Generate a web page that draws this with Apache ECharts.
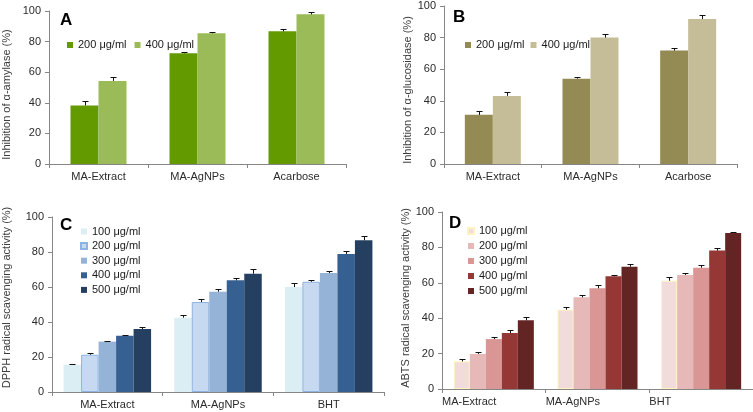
<!DOCTYPE html>
<html>
<head>
<meta charset="utf-8">
<script src="https://cdn.jsdelivr.net/npm/echarts@6/dist/echarts.min.js"></script>
<style>
html,body{margin:0;padding:0;background:#fff;}
#chart{width:753px;height:412px;}
</style>
</head>
<body>
<div id="chart"></div>
<script>
// ---------- data ----------
const categoriesAB = ['MA-Extract', 'MA-AgNPs', 'Acarbose'];
const categoriesCD = ['MA-Extract', 'MA-AgNPs', 'BHT'];
const legendAB = ['200 μg/ml', '400 μg/ml'];
const legendCD = ['100 μg/ml', '200 μg/ml', '300 μg/ml', '400 μg/ml', '500 μg/ml'];
const yMin = 0, yMax = 100, yStep = 20;

const amylase200 = [38.3, 72.4, 86.7];
const amylase200Err = [2.6, 1.1, 1.3];
const amylase400 = [54.3, 85.4, 97.8];
const amylase400Err = [2.4, 1.1, 1.3];

const glucosidase200 = [31.1, 54.0, 71.8];
const glucosidase200Err = [2.3, 1.3, 1.7];
const glucosidase400 = [43.1, 80.0, 91.8];
const glucosidase400Err = [2.3, 2.1, 2.7];

const dpph100 = [15.6, 42.5, 60.0];
const dpph200 = [21.3, 51.4, 63.0];
const dpph300 = [28.8, 57.3, 68.0];
const dpph400 = [32.2, 63.8, 78.9];
const dpph500 = [36.0, 67.6, 86.7];
const dpph100Err = [0.6, 1.3, 2.3];
const dpph200Err = [1.0, 1.7, 1.2];
const dpph300Err = [0.5, 1.7, 1.1];
const dpph400Err = [0.6, 1.3, 1.7];
const dpph500Err = [1.1, 2.5, 2.6];

const abts100 = [15.6, 44.8, 61.2];
const abts200 = [19.8, 51.8, 64.4];
const abts300 = [28.2, 56.9, 68.5];
const abts400 = [31.6, 63.7, 78.2];
const abts500 = [38.8, 69.1, 88.1];
const abts100Err = [1.4, 1.3, 1.8];
const abts200Err = [1.1, 1.3, 1.3];
const abts300Err = [1.4, 1.7, 1.5];
const abts400Err = [1.9, 0.9, 1.6];
const abts500Err = [1.9, 1.5, 0.8];

// ---------- styling ----------
const FONT = 'Liberation Sans, Arial, sans-serif';
const AXIS_COLOR = '#868686';
const TEXT_COLOR = '#2b2b2b';

const option = {
  backgroundColor: '#fff',
  animation: false,
  textStyle: { fontFamily: FONT },
  grid: [], xAxis: [], yAxis: [], series: [], legend: [], title: []
};

function addPanel(cfg) {
  const g = option.grid.length;
  option.grid.push({ left: cfg.grid[0], top: cfg.grid[1], width: cfg.grid[2], height: cfg.grid[3], containLabel: false });
  const catW = cfg.grid[2] / cfg.cats.length;
  const xLabel = {
    fontSize: 11, color: TEXT_COLOR, margin: 7, interval: 0, fontFamily: FONT
  };
  if (cfg.leftLabels) {
    xLabel.formatter = v => '{a|' + v + '}';
    xLabel.rich = { a: { width: catW, align: 'left', fontSize: 11, color: TEXT_COLOR, fontFamily: FONT } };
  }
  option.xAxis.push({
    type: 'category', gridIndex: g, data: cfg.cats,
    axisLine: { lineStyle: { color: AXIS_COLOR, width: 1 } },
    axisTick: { show: true, length: 4, lineStyle: { color: AXIS_COLOR } },
    axisLabel: xLabel,
    splitLine: { show: false }
  });
  option.yAxis.push({
    type: 'value', gridIndex: g, min: yMin, max: yMax, interval: yStep,
    axisLine: { show: true, lineStyle: { color: AXIS_COLOR, width: 1 } },
    axisTick: { show: true, length: 4, lineStyle: { color: AXIS_COLOR } },
    axisLabel: { fontSize: 11, color: TEXT_COLOR, margin: 8, fontFamily: FONT },
    splitLine: { show: false },
    name: cfg.yName, nameLocation: 'middle', nameGap: cfg.nameGap,
    nameTextStyle: { fontSize: 11, color: '#3c3c3c', padding: cfg.namePad, fontFamily: FONT }
  });
  const n = cfg.values.length;
  cfg.values.forEach((vals, i) => {
    const nm = cfg.key + '|' + cfg.names[i];
    option.series.push({
      type: 'bar', name: nm, xAxisIndex: g, yAxisIndex: g,
      data: vals, barWidth: cfg.barW, barGap: '0%',
      itemStyle: { color: cfg.colors[i], borderColor: cfg.borders[i] || cfg.colors[i], borderWidth: cfg.borders[i] ? 1 : 0 }
    });
    const off = (i - (n - 1) / 2) * cfg.barW;
    option.series.push({
      type: 'custom', name: cfg.key + '-err' + i, xAxisIndex: g, yAxisIndex: g, z: 10,
      data: vals.map((v, j) => [j, v, cfg.errs[i][j]]),
      encode: { x: 0, y: 1 },
      renderItem: function (params, api) {
        const c = api.value(0), v = api.value(1), e = api.value(2);
        const p0 = api.coord([c, v]);
        const p1 = api.coord([c, v + e]);
        const x = Math.round(p0[0] + off) + 0.5;
        const yt = Math.round(p1[1]) + 0.5;
        return {
          type: 'group', children: [
            { type: 'line', shape: { x1: x, y1: p0[1], x2: x, y2: yt }, style: { stroke: '#111', lineWidth: 1 } },
            { type: 'line', shape: { x1: x - 3, y1: yt, x2: x + 3, y2: yt }, style: { stroke: '#111', lineWidth: 1 } }
          ]
        };
      }
    });
  });
  option.legend.push(Object.assign({
    data: cfg.names.map(nm => cfg.key + '|' + nm),
    formatter: nm => nm.split('|')[1],
    icon: 'rect', itemWidth: 6, itemHeight: 6, selectedMode: false, padding: 0,
    textStyle: { fontSize: 11, color: '#1a1a1a', fontFamily: FONT, lineHeight: 11 }
  }, cfg.legend));
  option.title.push({
    text: cfg.letter, left: cfg.letterPos[0], top: cfg.letterPos[1], padding: 0,
    textStyle: { fontSize: 17, fontWeight: 'bold', color: '#000', fontFamily: FONT }
  });
}

addPanel({
  key: 'A', cats: categoriesAB, names: legendAB,
  values: [amylase200, amylase400], errs: [amylase200Err, amylase400Err],
  colors: ['#629a00', '#9bbb59'], borders: [null, null], barW: 28,
  grid: [49, 11, 297, 153],
  yName: 'Inhibition of α-amylase (%)', nameGap: 37, namePad: [0, 14, 0, 0],
  legend: { left: 67, top: 39.5, orient: 'horizontal', itemGap: 8 },
  letter: 'A', letterPos: [60, 12]
});

addPanel({
  key: 'B', cats: categoriesAB, names: legendAB,
  values: [glucosidase200, glucosidase400], errs: [glucosidase200Err, glucosidase400Err],
  colors: ['#948a54', '#c4bd97'], borders: [null, null], barW: 28,
  grid: [444, 6, 293, 158],
  yName: 'Inhibition of α-glucosidase (%)', nameGap: 31, namePad: [0, 10, 0, 0],
  legend: { left: 465, top: 39.5, orient: 'horizontal', itemGap: 6 },
  letter: 'B', letterPos: [453, 9]
});

addPanel({
  key: 'C', cats: categoriesCD, names: legendCD,
  values: [dpph100, dpph200, dpph300, dpph400, dpph500],
  errs: [dpph100Err, dpph200Err, dpph300Err, dpph400Err, dpph500Err],
  colors: ['#dbeef4', '#c6d9f1', '#95b3d7', '#376092', '#243f60'],
  borders: [null, '#8db3e2', null, null, null], barW: 17.5,
  grid: [49, 217, 335, 175],
  yName: 'DPPH radical scavenging activity (%)', nameGap: 40, namePad: [0, 0, 0, 14],
  legend: { left: 80, top: 226, orient: 'vertical', itemGap: 3.6 },
  letter: 'C', letterPos: [60, 217]
});

addPanel({
  key: 'D', cats: categoriesCD, names: legendCD,
  values: [abts100, abts200, abts300, abts400, abts500],
  errs: [abts100Err, abts200Err, abts300Err, abts400Err, abts500Err],
  colors: ['#f2dcdb', '#e6b9b8', '#d99694', '#953735', '#632523'],
  borders: ['#fdf2c0', null, null, null, null], barW: 16,
  grid: [442, 212, 311, 177],
  yName: 'ABTS radical scavenging activity (%)', nameGap: 31, namePad: [0, 0, 0, 5],
  legend: { left: 467, top: 225.5, orient: 'vertical', itemGap: 4 },
  letter: 'D', letterPos: [449, 215], leftLabels: true
});

const chart = echarts.init(document.getElementById('chart'), null, { renderer: 'canvas' });
chart.setOption(option);
</script>
</body>
</html>
